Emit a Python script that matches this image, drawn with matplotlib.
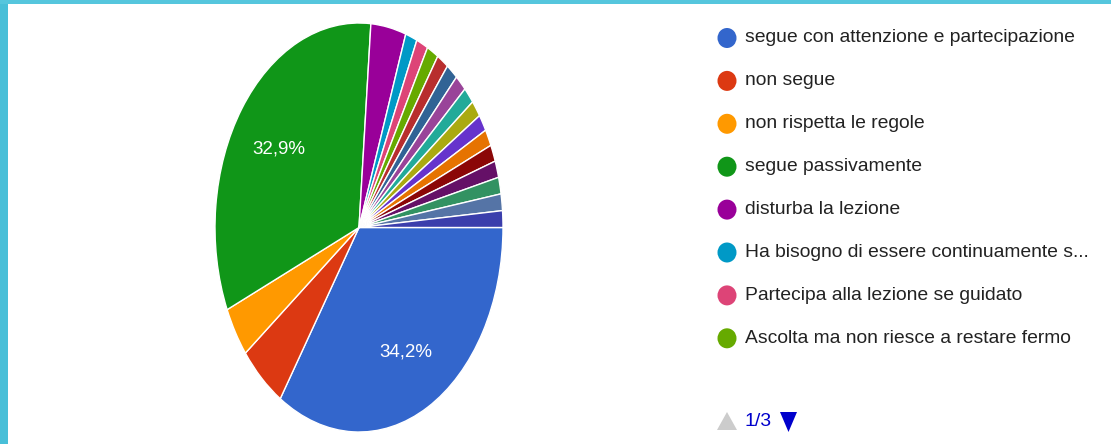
import matplotlib
matplotlib.use("Agg")
import matplotlib.pyplot as plt
from matplotlib.patches import Rectangle, Ellipse, Polygon

# ---- data ----
categories = [
    "segue con attenzione e partecipazione",
    "non segue",
    "non rispetta le regole",
    "segue passivamente",
    "disturba la lezione",
    "Ha bisogno di essere continuamente s...",
    "Partecipa alla lezione se guidato",
    "Ascolta ma non riesce a restare fermo",
    "altro 9", "altro 10", "altro 11", "altro 12", "altro 13", "altro 14",
    "altro 15", "altro 16", "altro 17", "altro 18", "altro 19", "altro 20",
]
counts = [26, 4, 3, 25, 3] + [1] * 15
colors = ["#3366cc", "#dc3912", "#ff9900", "#109618", "#990099", "#0099c6",
          "#dd4477", "#66aa00", "#b82e2e", "#316395", "#994499", "#22aa99",
          "#aaaa11", "#6633cc", "#e67300", "#8b0707", "#651067", "#329262",
          "#5574a6", "#3b3eac"]
legend_shown = 8
page_text = "1/3"

FONT = ["Liberation Sans", "DejaVu Sans"]

W, H = 1111, 444
fig = plt.figure(figsize=(W / 100, H / 100), dpi=100)
fig.patch.set_facecolor("white")

# cyan frame (left and top)
bg = fig.add_axes([0, 0, 1, 1])
bg.set_xlim(0, W)
bg.set_ylim(H, 0)
bg.axis("off")
bg.add_patch(Rectangle((0, 0), 8, H, color="#48bfd8", lw=0))
bg.add_patch(Rectangle((0, 0), W, 4, color="#55c6dd", lw=0))

# pie axes (elliptical pie as in the reference)
left, right, top, bottom = 215, 503, 23, 432
ax = fig.add_axes([left / W, (H - bottom) / H, (right - left) / W, (bottom - top) / H])


def fmt(p):
    return (f"{p:.1f}%".replace(".", ",")) if p > 10 else ""


wedges, texts, autotexts = ax.pie(
    counts, colors=colors, startangle=0, counterclock=False, radius=1,
    autopct=fmt, pctdistance=0.68,
    wedgeprops=dict(edgecolor="white", linewidth=1),
    textprops=dict(color="white", fontsize=13.5, family=FONT),
)
for t in autotexts:
    t.set_va("center_baseline")
ax.set_aspect("auto")
ax.set_xlim(-1, 1)
ax.set_ylim(-1, 1)
ax.axis("off")

# legend (first page)
row_y0, row_dy = 38, 42.9
for i in range(legend_shown):
    y = row_y0 + i * row_dy
    bg.add_patch(Ellipse((727, y), 19, 20, color=colors[i], lw=0))
    bg.text(745, y, categories[i], fontsize=13.9, family=FONT, color="#222222",
            va="center", ha="left")

# pager
py = 421
bg.add_patch(Polygon([[717, py + 9], [727, py - 9], [737, py + 9]], closed=True,
                     color="#cccccc", lw=0))
bg.text(745, py, page_text, fontsize=14, family=FONT, color="#0000cc",
        va="center", ha="left")
bg.add_patch(Polygon([[780, py - 9], [797, py - 9], [788.5, py + 11]], closed=True,
                     color="#0000cc", lw=0))

fig.savefig("out.png", dpi=100, facecolor="white")
